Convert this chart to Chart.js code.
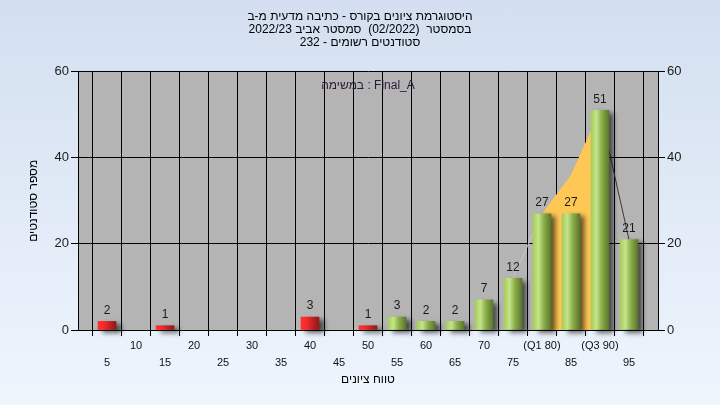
<!DOCTYPE html>
<html>
<head>
<meta charset="UTF-8">
<title>Histogram</title>
<script src="https://cdn.jsdelivr.net/npm/chart.js@4.4.0/dist/chart.umd.min.js"></script>
<style>
    html, body { margin: 0; padding: 0; }
    body { width: 720px; height: 405px; background: linear-gradient(#d3dff0, #eef5fd); overflow: hidden; }
</style>
</head>
<body>
<canvas id="myChart" width="720" height="405"></canvas>
<script>
    // grade buckets along the x axis (0..100 step 5)
    var grades = ['0','5','10','15','20','25','30','35','40','45','50','55','60','65','70','75','80','85','90','95','100'];
    // number of students per bucket
    var students = [null, 2, null, 1, null, null, null, null, 3, null, 1, 3, 2, 2, 7, 12, 27, 27, 51, 21, null];
    // distribution outline, split in three parts (below Q1, Q1..Q3, above Q3)
    var curveLow  = [null, null, null, null, null, null, null, null, null, null, null, null, null, null, null, 12, 27, null, null, null, null];
    var curveBand = [null, null, null, null, null, null, null, null, null, null, null, null, null, null, null, null, 27, 36, 51, null, null];
    var curveHigh = [null, null, null, null, null, null, null, null, null, null, null, null, null, null, null, null, null, null, 51, 21, null];
    var tickNames = { '0': '', '100': '', '80': '(Q1 80)', '90': '(Q3 90)' };
    var passGrade = 55;

    var titleLines = [
        'היסטוגרמת ציונים בקורס - כתיבה מדעית מ-ב',
        'בסמסטר  (02/2022)  סמסטר אביב 2022/23',
        'סטודנטים רשומים - 232'
    ];
    var xTitle = 'טווח ציונים';
    var yTitle = 'מספר סטודנטים';
    var taskLabel = 'במשימה : Final_A';

    Chart.defaults.font.family = '"Liberation Sans", Arial, sans-serif';

    function isFail(i) { return Number(grades[i]) < passGrade; }

    function barFill(ctx) {
        var chart = ctx.chart;
        var px = chart.scales.x ? chart.scales.x.getPixelForValue(ctx.dataIndex) : NaN;
        if (!isFinite(px)) return isFail(ctx.dataIndex) ? '#e02828' : '#98bf50';
        var g = chart.ctx.createLinearGradient(px - 9, 0, px + 9, 0);
        if (isFail(ctx.dataIndex)) {
            g.addColorStop(0, '#ff3030');
            g.addColorStop(0.3, '#f82a2a');
            g.addColorStop(1, '#8a1a1a');
        } else {
            g.addColorStop(0, '#a6cc58');
            g.addColorStop(0.3, '#c4e48a');
            g.addColorStop(0.6, '#8cae4a');
            g.addColorStop(1, '#5a752c');
        }
        return g;
    }

    const plotBack = {
        id: 'plotBack',
        beforeDraw(chart) {
            const a = chart.chartArea;
            chart.ctx.save();
            chart.ctx.fillStyle = '#b4b4b4';
            chart.ctx.fillRect(a.left, a.top, a.right - a.left, a.bottom - a.top);
            chart.ctx.restore();
        }
    };

    const barShadow = {
        id: 'barShadow',
        beforeDatasetDraw(chart, args) {
            if (args.meta.type !== 'bar') return;
            const c = chart.ctx;
            c.save();
            c.shadowColor = 'rgba(0,0,0,0.6)';
            c.shadowBlur = 5;
            c.shadowOffsetX = 5;
            c.shadowOffsetY = 3;
        },
        afterDatasetDraw(chart, args) {
            if (args.meta.type !== 'bar') return;
            chart.ctx.restore();
        }
    };

    const barValues = {
        id: 'barValues',
        afterDatasetsDraw(chart) {
            const c = chart.ctx;
            c.save();
            c.font = '12px "Liberation Sans", Arial, sans-serif';
            c.fillStyle = '#1a1a1a';
            c.textAlign = 'center';
            c.textBaseline = 'bottom';
            chart.getDatasetMeta(0).data.forEach(function (el, i) {
                if (students[i] == null) return;
                c.fillText(String(students[i]), el.x, el.y - 5);
            });
            // task name at the top of the plot
            const a = chart.chartArea;
            c.fillStyle = '#2a1a3a';
            c.textBaseline = 'middle';
            c.fillText(taskLabel, (a.left + a.right) / 2, a.top + 14);
            c.restore();
        }
    };

    new Chart(document.getElementById('myChart'), {
        data: {
            labels: grades,
            datasets: [
                {
                    type: 'bar',
                    data: students,
                    backgroundColor: barFill,
                    barThickness: 18,
                    borderWidth: 0,
                    clip: false,
                    order: 0
                },
                {
                    type: 'line',
                    data: curveBand,
                    fill: 'origin',
                    backgroundColor: '#ffc855',
                    borderWidth: 0,
                    pointRadius: 0,
                    order: 1
                },
                {
                    type: 'line',
                    data: curveLow,
                    borderColor: '#c8c8c8',
                    borderWidth: 1,
                    pointRadius: 0,
                    order: 1
                },
                {
                    type: 'line',
                    data: curveHigh,
                    borderColor: '#3a3a3a',
                    borderWidth: 1,
                    pointRadius: 0,
                    order: 1
                }
            ]
        },
        options: {
            responsive: false,
            animation: false,
            layout: { padding: 0 },
            plugins: {
                legend: { display: false },
                tooltip: { enabled: false },
                title: {
                    display: true,
                    text: titleLines,
                    color: '#000',
                    font: { size: 12, weight: 'normal', lineHeight: 1.1 },
                    padding: { top: 10, bottom: 22 }
                }
            },
            scales: {
                x: {
                    type: 'category',
                    offset: false,
                    grid: { color: '#000', tickLength: 6 },
                    border: { color: '#000' },
                    ticks: {
                        autoSkip: false,
                        maxRotation: 0,
                        minRotation: 0,
                        padding: 1,
                        color: '#111',
                        font: { size: 11, lineHeight: '17px' },
                        callback: function (value, index) {
                            var g = grades[index];
                            var name = (g in tickNames) ? tickNames[g] : g;
                            return index % 2 === 1 ? ['', name] : name;
                        }
                    },
                    title: {
                        display: true,
                        text: xTitle,
                        color: '#000',
                        font: { size: 12 },
                        padding: { top: 0, bottom: 18 }
                    },
                    afterFit: function (s) { s.height = 75; }
                },
                y: {
                    position: 'left',
                    min: 0,
                    max: 60,
                    grid: { color: '#000', tickLength: 7 },
                    border: { color: '#000' },
                    ticks: { stepSize: 20, padding: 2, color: '#1a1a1a', font: { size: 13 } },
                    title: {
                        display: true,
                        text: yTitle,
                        color: '#000',
                        font: { size: 12 },
                        padding: { top: 26, bottom: 0 }
                    },
                    afterFit: function (s) { s.width = 78; }
                },
                y2: {
                    position: 'right',
                    min: 0,
                    max: 60,
                    grid: { drawOnChartArea: false, color: '#000', tickLength: 7 },
                    border: { color: '#000' },
                    ticks: { stepSize: 20, padding: 2, color: '#1a1a1a', font: { size: 13 } },
                    afterFit: function (s) { s.width = 62; }
                }
            }
        },
        plugins: [plotBack, barShadow, barValues]
    });
</script>
</body>
</html>
